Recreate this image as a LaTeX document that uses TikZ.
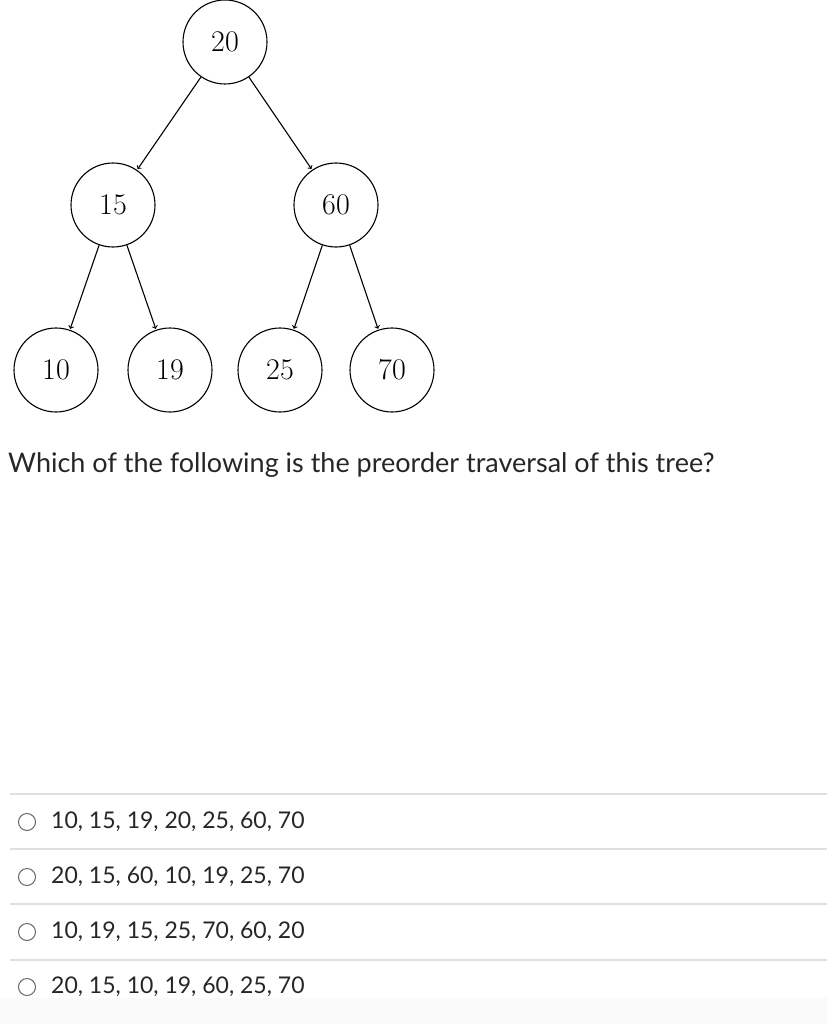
\documentclass[tikz,border=0pt]{standalone}
\usepackage{fontspec}
\newfontfamily\lato{Lato}
\begin{document}
\begin{tikzpicture}[x=1pt,y=-1pt,
  tn/.style={circle,draw,line width=1.1pt,minimum size=84pt,inner sep=0pt,font=\fontsize{30}{32}\selectfont},
  ed/.style={-to,line width=1.1pt,shorten >=1pt},
  sep/.style={draw=black!12,line width=1.2pt},
  opt/.style={anchor=west,inner sep=0pt,font=\lato\fontsize{23}{26}\selectfont,text=black!85},
  rad/.style={circle,draw=black!60,line width=1pt,minimum size=17pt,inner sep=0pt}]
\useasboundingbox (0,0) rectangle (827,1024);
\fill[black!2] (0,998) rectangle (827,1024);
\node[tn] (n20) at (225,42) {20};
\node[tn] (n15) at (113,205) {15};
\node[tn] (n60) at (336,205) {60};
\node[tn] (n10) at (56,370) {10};
\node[tn] (n19) at (170,370) {19};
\node[tn] (n25) at (280,370) {25};
\node[tn] (n70) at (392,370) {70};
\draw[ed] (n20) -- (n15);
\draw[ed] (n20) -- (n60);
\draw[ed] (n15) -- (n10);
\draw[ed] (n15) -- (n19);
\draw[ed] (n60) -- (n25);
\draw[ed] (n60) -- (n70);
\node[anchor=west,inner sep=0pt,font=\lato\fontsize{27}{30}\selectfont,text=black!85] (q) at (8,465) {Which of the following is the preorder traversal of this tree?};
\foreach \y in {794,849,904,960} \draw[sep] (10,\y) -- (827,\y);
\foreach \y/\t [count=\i] in {822/{10, 15, 19, 20, 25, 60, 70},877/{20, 15, 60, 10, 19, 25, 70},932/{10, 19, 15, 25, 70, 60, 20},987/{20, 15, 10, 19, 60, 25, 70}} {
  \node[rad] (r\i) at (27,\y) {};
  \node[opt] (o\i) at (51,\y) {\t};
}
\end{tikzpicture}
\end{document}
